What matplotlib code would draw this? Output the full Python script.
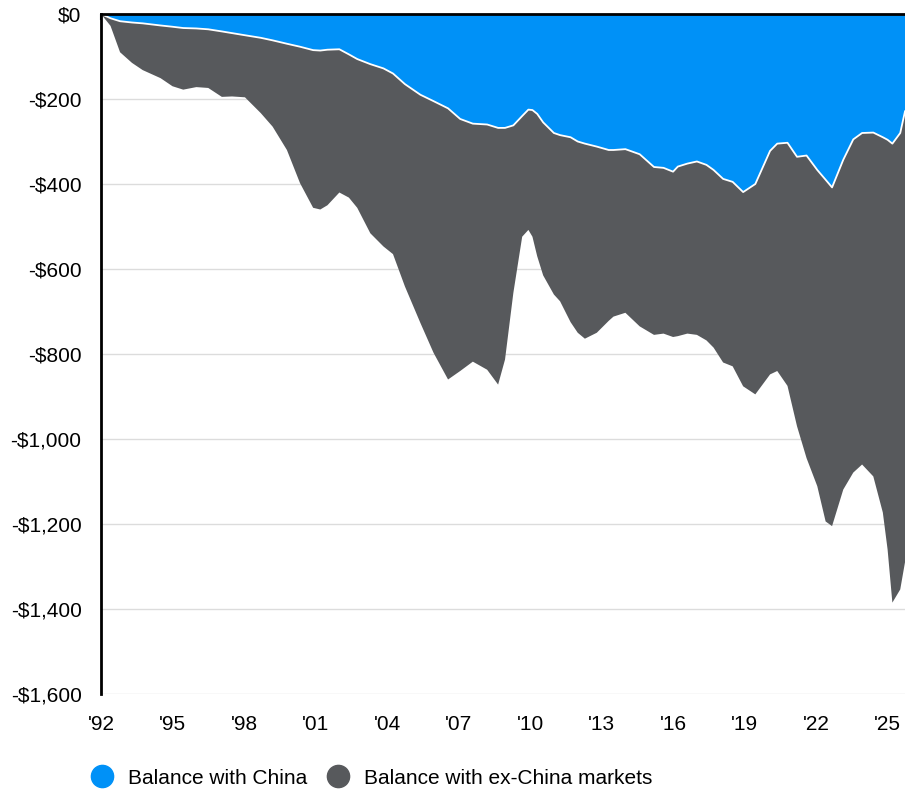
import matplotlib
matplotlib.use("Agg")
import matplotlib.pyplot as plt
from matplotlib.lines import Line2D

plt.rcParams['font.family'] = ['Liberation Sans', 'DejaVu Sans']

# Decimal years of the sampled points
years = [1992.0, 1992.4, 1992.8, 1993.3, 1993.75, 1994.5, 1995.0, 1995.45, 1996.0, 1996.5,
         1997.07, 1997.5, 1998.04, 1998.7, 1999.2, 1999.8, 2000.35, 2000.9, 2001.2, 2001.5,
         2002.0, 2002.4, 2002.75, 2003.3, 2003.85, 2004.25, 2004.75, 2005.4, 2005.95, 2006.56,
         2007.07, 2007.6, 2008.2, 2008.66, 2008.95, 2009.3, 2009.67, 2009.93, 2010.1, 2010.3,
         2010.55, 2011.0, 2011.26, 2011.7, 2012.0, 2012.3, 2012.8, 2013.3, 2013.5, 2014.0,
         2014.6, 2015.2, 2015.6, 2016.0, 2016.2, 2016.6, 2017.0, 2017.4, 2017.7, 2018.1,
         2018.5, 2018.94, 2019.45, 2020.07, 2020.37, 2020.8, 2021.2, 2021.6, 2022.05, 2022.4,
         2022.67, 2023.14, 2023.56, 2023.93, 2024.4, 2024.8, 2025.0, 2025.2, 2025.53, 2025.73]

# Trade balance with China (billions USD)
china = [0, -10, -17, -20, -22, -27, -30, -33, -34, -36,
         -41, -45, -50, -56, -62, -70, -77, -85, -86, -84,
         -83, -95, -106, -118, -128, -140, -165, -190, -205, -222,
         -247, -258, -260, -268, -268, -262, -240, -225, -226, -235,
         -255, -280, -285, -290, -300, -305, -312, -320, -320, -318,
         -330, -360, -362, -371, -359, -352, -347, -355, -367, -388,
         -395, -419, -400, -322, -305, -303, -336, -333, -367, -390,
         -408, -343, -295, -280, -279, -290, -296, -305, -280, -229]

# Trade balance with ex-China markets (billions USD)
ex_china = [0, -18, -73, -95, -110, -124, -140, -145, -138, -138,
            -154, -149, -146, -177, -203, -250, -321, -371, -374, -366,
            -337, -337, -350, -398, -419, -425, -476, -537, -592, -638,
            -593, -560, -577, -604, -545, -394, -284, -283, -298, -335,
            -360, -380, -391, -435, -450, -459, -438, -402, -392, -385,
            -405, -395, -390, -389, -399, -400, -408, -413, -418, -432,
            -434, -457, -495, -526, -535, -572, -634, -712, -744, -804,
            -797, -776, -784, -780, -809, -883, -964, -1080, -1074, -1061]

xticks = [1992, 1995, 1998, 2001, 2004, 2007, 2010, 2013, 2016, 2019, 2022, 2025]
xticklabels = ["'92", "'95", "'98", "'01", "'04", "'07", "'10", "'13", "'16", "'19", "'22", "'25"]
yticks = [0, -200, -400, -600, -800, -1000, -1200, -1400, -1600]
yticklabels = ["$0", "-$200", "-$400", "-$600", "-$800", "-$1,000", "-$1,200", "-$1,400", "-$1,600"]
series_names = ["Balance with China", "Balance with ex-China markets"]

BLUE = "#0091F7"
GREY = "#57595C"

fig = plt.figure(figsize=(9.05, 7.89), dpi=100)
ax = fig.add_axes([101/905, 1 - 694/789, 1 - 101/905, (694 - 14)/789])

ax.stackplot(years, china, ex_china, colors=[BLUE, GREY], linewidth=0, zorder=2)
ax.plot(years, china, color="white", linewidth=1.3, zorder=3)

ax.set_xlim(1992, 2025.73)
ax.set_ylim(-1600, 0)

ax.set_yticks(yticks)
ax.set_yticklabels(yticklabels)
ax.set_xticks(xticks)
ax.set_xticklabels(xticklabels)

ax.yaxis.grid(True, color="#DCDCDC", linewidth=1.0, zorder=0)
ax.set_axisbelow(True)

for s in ["right", "bottom"]:
    ax.spines[s].set_visible(False)
for s in ["top", "left"]:
    ax.spines[s].set_color("black")
    ax.spines[s].set_linewidth(2.0)
    ax.spines[s].set_zorder(5)

ax.tick_params(axis="y", length=0, pad=14, labelsize=15, colors="black")
ax.tick_params(axis="x", direction="in", top=True, bottom=False, labeltop=False,
               labelbottom=True, length=4.5, width=1.5, pad=15, labelsize=15, colors="black")

handles = [Line2D([], [], marker="o", linestyle="none", markersize=16,
                  markerfacecolor=c, markeredgecolor=c) for c in [BLUE, GREY]]
fig.legend(handles, series_names, loc="center left", bbox_to_anchor=(89/905, 1 - 778/789),
           ncol=2, frameon=False, fontsize=15, handletextpad=0.65, columnspacing=0.9,
           handlelength=1.2, borderaxespad=0, borderpad=0)

fig.savefig("out.png", dpi=100)
